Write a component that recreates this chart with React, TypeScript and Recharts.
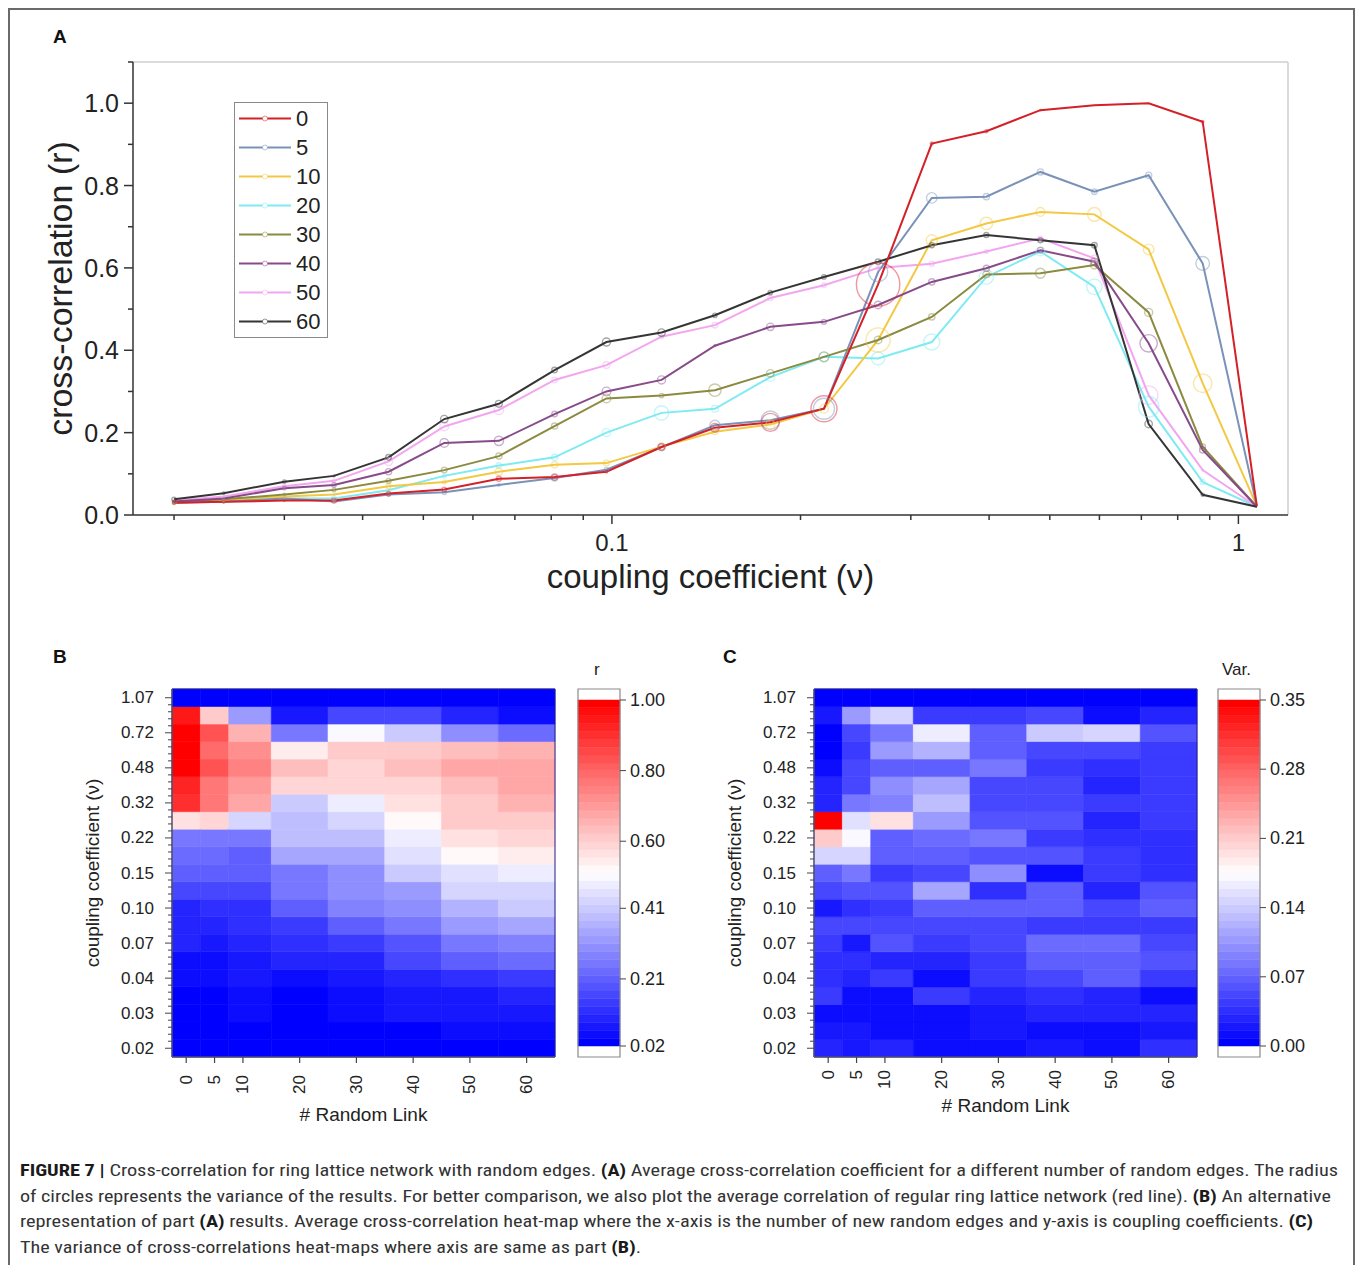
import React from 'react'
import {
  LineChart,
  Line,
  XAxis,
  YAxis,
  Legend,
  Label,
  ReferenceLine,
  ReferenceArea,
  ComposedChart,
  Scatter
} from 'recharts'

// coupling coefficients (21 log-spaced steps) and number of random links
const couplings = [0.020, 0.024, 0.030, 0.036, 0.044, 0.054, 0.066, 0.081, 0.098, 0.120, 0.146, 0.179, 0.218, 0.266, 0.324, 0.396, 0.483, 0.589, 0.719, 0.877, 1.07]
const links = [0, 5, 10, 20, 30, 40, 50, 60]

// average cross-correlation r, one array per number of random links
const corr0 = [0.030, 0.032, 0.035, 0.035, 0.052, 0.062, 0.088, 0.092, 0.105, 0.165, 0.212, 0.225, 0.258, 0.560, 0.902, 0.932, 0.983, 0.995, 1.000, 0.955, 0.022]
const corr5 = [0.030, 0.032, 0.040, 0.033, 0.050, 0.055, 0.073, 0.090, 0.110, 0.165, 0.218, 0.230, 0.258, 0.590, 0.770, 0.773, 0.833, 0.785, 0.825, 0.611, 0.022]
const corr10 = [0.030, 0.035, 0.045, 0.050, 0.070, 0.080, 0.105, 0.122, 0.126, 0.166, 0.202, 0.220, 0.258, 0.425, 0.667, 0.708, 0.736, 0.730, 0.645, 0.320, 0.022]
const corr20 = [0.030, 0.035, 0.040, 0.040, 0.060, 0.095, 0.120, 0.140, 0.200, 0.248, 0.258, 0.335, 0.384, 0.380, 0.420, 0.578, 0.640, 0.554, 0.263, 0.080, 0.020]
const corr30 = [0.032, 0.038, 0.050, 0.061, 0.083, 0.109, 0.143, 0.216, 0.283, 0.290, 0.303, 0.344, 0.384, 0.425, 0.481, 0.584, 0.587, 0.607, 0.492, 0.166, 0.020]
const corr40 = [0.033, 0.040, 0.065, 0.073, 0.105, 0.175, 0.180, 0.245, 0.300, 0.328, 0.411, 0.457, 0.469, 0.510, 0.566, 0.599, 0.643, 0.615, 0.417, 0.158, 0.020]
const corr50 = [0.035, 0.045, 0.070, 0.083, 0.130, 0.215, 0.255, 0.328, 0.364, 0.433, 0.461, 0.527, 0.558, 0.600, 0.610, 0.640, 0.672, 0.623, 0.291, 0.109, 0.020]
const corr60 = [0.038, 0.053, 0.081, 0.095, 0.140, 0.233, 0.270, 0.352, 0.420, 0.443, 0.485, 0.540, 0.578, 0.615, 0.655, 0.680, 0.667, 0.655, 0.221, 0.049, 0.020]

// variance of r (panel C, also circle radius in panel A)
const var0 = [0.025, 0.020, 0.015, 0.040, 0.035, 0.035, 0.040, 0.050, 0.020, 0.050, 0.070, 0.145, 0.210, 0.350, 0.025, 0.025, 0.010, 0.000, 0.000, 0.020, 0.000]
const var5 = [0.022, 0.020, 0.008, 0.008, 0.030, 0.035, 0.020, 0.050, 0.035, 0.060, 0.080, 0.150, 0.170, 0.155, 0.085, 0.050, 0.050, 0.045, 0.050, 0.110, 0.000]
const var10 = [0.030, 0.015, 0.008, 0.008, 0.040, 0.030, 0.060, 0.050, 0.045, 0.060, 0.045, 0.070, 0.070, 0.195, 0.090, 0.100, 0.070, 0.110, 0.085, 0.150, 0.000]
const var20 = [0.015, 0.015, 0.008, 0.040, 0.012, 0.030, 0.045, 0.050, 0.065, 0.115, 0.055, 0.070, 0.075, 0.105, 0.130, 0.115, 0.070, 0.125, 0.165, 0.040, 0.000]
const var30 = [0.015, 0.020, 0.020, 0.030, 0.040, 0.045, 0.050, 0.050, 0.070, 0.035, 0.100, 0.060, 0.080, 0.060, 0.050, 0.055, 0.080, 0.065, 0.065, 0.045, 0.000]
const var40 = [0.022, 0.008, 0.028, 0.035, 0.050, 0.070, 0.075, 0.045, 0.070, 0.065, 0.015, 0.060, 0.040, 0.060, 0.050, 0.050, 0.045, 0.055, 0.140, 0.050, 0.000]
const var50 = [0.008, 0.015, 0.028, 0.028, 0.065, 0.070, 0.075, 0.045, 0.055, 0.030, 0.045, 0.040, 0.035, 0.030, 0.040, 0.030, 0.035, 0.055, 0.150, 0.015, 0.000]
const var60 = [0.035, 0.020, 0.028, 0.015, 0.045, 0.060, 0.055, 0.045, 0.065, 0.060, 0.035, 0.035, 0.035, 0.045, 0.040, 0.040, 0.040, 0.045, 0.060, 0.025, 0.000]

// axis ticks
const rTicks = [0, 0.1, 0.2, 0.3, 0.4, 0.5, 0.6, 0.7, 0.8, 0.9, 1.0, 1.1]
const rLabels = [0, 0.2, 0.4, 0.6, 0.8, 1.0]
const nuTicks = [0.02, 0.03, 0.04, 0.05, 0.06, 0.07, 0.08, 0.09, 0.1, 0.2, 0.3, 0.4, 0.5, 0.6, 0.7, 0.8, 0.9, 1]
const nuLabels = [0.1, 1]
const corrBarTicks = [0.02, 0.21, 0.41, 0.60, 0.80, 1.00]
const varBarTicks = [0.00, 0.07, 0.14, 0.21, 0.28, 0.35]

const series = [
  { key: 's0', name: '0', color: '#d42027', r: corr0, v: var0 },
  { key: 's5', name: '5', color: '#7a92b8', r: corr5, v: var5 },
  { key: 's10', name: '10', color: '#f3c843', r: corr10, v: var10 },
  { key: 's20', name: '20', color: '#7eeaf2', r: corr20, v: var20 },
  { key: 's30', name: '30', color: '#8a8a40', r: corr30, v: var30 },
  { key: 's40', name: '40', color: '#874b8a', r: corr40, v: var40 },
  { key: 's50', name: '50', color: '#f2a6ef', r: corr50, v: var50 },
  { key: 's60', name: '60', color: '#353535', r: corr60, v: var60 }
]
const drawOrder = ['s20', 's50', 's10', 's5', 's30', 's40', 's60', 's0']

const rows = couplings.map((nu, i) => {
  const row: Record<string, number> = { nu }
  series.forEach(s => { row[s.key] = s.r[i] })
  return row
})

const font = '"Liberation Sans", Arial, Helvetica, sans-serif'
const RADIUS_PER_VAR = 62

// blue-white-red colormap, banded like the original
function bwr(t: number, levels = 44) {
  const k = Math.min(levels - 1, Math.max(0, Math.floor(t * levels)))
  const q = k / (levels - 1)
  let r, g, b
  if (q < 0.5) {
    r = g = Math.round(255 * q / 0.5)
    b = 255
  } else {
    r = 255
    g = b = Math.round(255 * (1 - q) / 0.5)
  }
  return `rgb(${r},${g},${b})`
}

// cell edges along the random link axis
const edges = links.map((l, j) => {
  const prev = j > 0 ? links[j - 1] : l - (links[1] - links[0])
  const next = j < links.length - 1 ? links[j + 1] : l + (l - links[j - 1])
  return [(prev + l) / 2, (l + next) / 2]
})
const rowTicks = Array.from({ length: 51 }, (_, k) => Math.round(k * 4) / 10)

function NuTick(props: any) {
  const { x, y, payload } = props
  const v = payload.value
  const major = nuLabels.includes(v)
  return (
    <g>
      <line x1={x} x2={x} y1={y} y2={y + (major ? 9 : 5)} stroke="#333" strokeWidth={1.5} />
      {major && (
        <text x={x} y={y + 27} textAnchor="middle" dominantBaseline="central" fontSize={24} fill="#222" fontFamily={font}>
          {String(v)}
        </text>
      )}
    </g>
  )
}

function RTick(props: any) {
  const { x, y, payload } = props
  const v = payload.value
  const major = rLabels.includes(v)
  return (
    <g>
      <line x1={x - (major ? 9 : 5)} x2={x} y1={y} y2={y} stroke="#333" strokeWidth={1.5} />
      {major && (
        <text x={x - 14} y={y} textAnchor="end" dominantBaseline="central" fontSize={25} fill="#222" fontFamily={font}>
          {v.toFixed(1)}
        </text>
      )}
    </g>
  )
}

function makeDot(color: string, v: number[]) {
  return (props: any) => {
    const { cx, cy, index } = props
    const rad = v[index] * RADIUS_PER_VAR
    if (!rad || cx == null || cy == null) return <g key={`${color}-${index}`} />
    return (
      <circle
        key={`${color}-${index}`}
        cx={cx}
        cy={cy}
        r={rad}
        fill="none"
        stroke={color}
        strokeOpacity={0.45}
        strokeWidth={1.4}
      />
    )
  }
}

function LegendBox() {
  return (
    <div style={{ position: 'relative', width: 94, height: 236, border: '1.5px solid #8a8a8a', boxSizing: 'border-box', background: '#fff' }}>
      {series.map((s, i) => (
        <div key={s.key} style={{ position: 'absolute', left: 0, top: 1 + i * 29, height: 29, width: 92 }}>
          <svg width={56} height={29} style={{ position: 'absolute', left: 2, top: 0 }}>
            <line x1={2} x2={54} y1={14.5} y2={14.5} stroke={s.color} strokeWidth={2} />
            <circle cx={28} cy={14.5} r={2.5} fill="#fff" stroke={s.color} strokeOpacity={0.5} strokeWidth={1} />
          </svg>
          <span style={{ position: 'absolute', left: 61, top: 1, fontSize: 22, lineHeight: '27px', color: '#222', fontFamily: font }}>
            {s.name}
          </span>
        </div>
      ))}
    </div>
  )
}

function PanelA() {
  return (
    <div style={{ position: 'absolute', left: 0, top: 0 }}>
      <LineChart width={1300} height={620} data={rows} margin={{ top: 62, right: 12, left: 0, bottom: 25 }}>
        <XAxis
          dataKey="nu"
          type="number"
          scale="log"
          domain={[0.0172, 1.2]}
          allowDataOverflow
          ticks={nuTicks}
          interval={0}
          tickSize={0}
          tickMargin={0}
          tickLine={false}
          tick={<NuTick />}
          height={80}
          stroke="#333"
          strokeWidth={1.5}
        >
          <Label value="coupling coefficient (ν)" position="insideBottom" offset={7} fontSize={33} fill="#222" fontFamily={font} />
        </XAxis>
        <YAxis
          type="number"
          domain={[0, 1.1]}
          allowDataOverflow
          ticks={rTicks}
          interval={0}
          tickSize={0}
          tickMargin={0}
          tickLine={false}
          tick={<RTick />}
          width={133}
          stroke="#333"
          strokeWidth={1.5}
        >
          <Label
            value="cross-correlation (r)"
            angle={-90}
            position="insideLeft"
            offset={60}
            fontSize={34}
            fill="#222"
            fontFamily={font}
            style={{ textAnchor: 'middle' }}
          />
        </YAxis>
        <ReferenceLine y={1.1} stroke="#cfcfcf" strokeWidth={1.5} />
        <ReferenceLine x={1.2} stroke="#cfcfcf" strokeWidth={1.5} />
        {drawOrder.map(k => {
          const s = series.find(q => q.key === k)!
          return (
            <Line
              key={s.key}
              dataKey={s.key}
              name={s.name}
              type="linear"
              stroke={s.color}
              strokeWidth={2}
              dot={makeDot(s.color, s.v)}
              activeDot={false}
              isAnimationActive={false}
            />
          )
        })}
        <Legend
          layout="vertical"
          align="center"
          verticalAlign="middle"
          wrapperStyle={{ left: 234, top: 102, width: 94, height: 236 }}
          content={() => <LegendBox />}
        />
      </LineChart>
    </div>
  )
}

function makeRowTick(gap: number) {
  return (props: any) => {
    const { x, y, payload } = props
    const v = payload.value
    const row = Math.round(v)
    const major = Math.abs(v - row) < 1e-6 && row % 2 === 0
    return (
      <g>
        <line x1={x - (major ? 7 : 4)} x2={x} y1={y} y2={y} stroke="#444" strokeWidth={1} />
        {major && (
          <text x={x - gap} y={y} textAnchor="end" dominantBaseline="central" fontSize={17} fill="#222" fontFamily={font}>
            {couplings[row].toFixed(2)}
          </text>
        )}
      </g>
    )
  }
}

function makeLinkTick(gap: number) {
  return (props: any) => {
    const { x, y, payload } = props
    return (
      <g>
        <line x1={x} x2={x} y1={y} y2={y + 6} stroke="#444" strokeWidth={1.2} />
        <text
          transform={`translate(${x},${y + gap}) rotate(-90)`}
          textAnchor="end"
          dominantBaseline="central"
          fontSize={17}
          fill="#222"
          fontFamily={font}
        >
          {payload.value}
        </text>
      </g>
    )
  }
}

type HeatProps = {
  grid: number[][]
  lo: number
  hi: number
  left: number
  tickGap: number
  titleOffset: number
}

function HeatMap({ grid, lo, hi, left, tickGap, titleOffset }: HeatProps) {
  const cells = links.flatMap((l, j) =>
    couplings.map((_, i) => ({ x: l, y: i, j, value: grid[j][i] }))
  )
  const RowTick = makeRowTick(18)
  const LinkTick = makeLinkTick(tickGap)
  return (
    <div style={{ position: 'absolute', left, top: 640 }}>
      <ComposedChart width={500} height={500} data={cells} margin={{ top: 49, right: 5, left: 0, bottom: 3 }}>
        <XAxis
          type="number"
          dataKey="x"
          domain={[edges[0][0], edges[edges.length - 1][1]]}
          allowDataOverflow
          ticks={links}
          interval={0}
          tickSize={0}
          tickMargin={0}
          tickLine={false}
          tick={<LinkTick />}
          height={80}
          stroke="#666"
        >
          <Label value="# Random Link" position="insideTop" offset={titleOffset} fontSize={19} fill="#222" fontFamily={font} />
        </XAxis>
        <YAxis
          type="number"
          dataKey="y"
          domain={[-0.5, couplings.length - 0.5]}
          allowDataOverflow
          ticks={rowTicks}
          interval={0}
          tickSize={0}
          tickMargin={0}
          tickLine={false}
          tick={<RowTick />}
          width={112}
          stroke="#666"
        >
          <Label
            value="coupling coefficient (ν)"
            angle={-90}
            position="insideLeft"
            offset={32}
            fontSize={19}
            fill="#222"
            fontFamily={font}
            style={{ textAnchor: 'middle' }}
          />
        </YAxis>
        {cells.map(c => {
          const col = bwr((c.value - lo) / (hi - lo))
          return (
            <ReferenceArea
              key={`${c.j}-${c.y}`}
              x1={edges[c.j][0]}
              x2={edges[c.j][1]}
              y1={c.y - 0.5}
              y2={c.y + 0.5}
              fill={col}
              fillOpacity={1}
              stroke={col}
              strokeWidth={0.6}
              ifOverflow="visible"
            />
          )
        })}
        <ReferenceArea
          x1={edges[0][0]}
          x2={edges[edges.length - 1][1]}
          y1={-0.5}
          y2={couplings.length - 0.5}
          fill="none"
          stroke="#20208a"
          strokeWidth={1}
          ifOverflow="visible"
        />
        <Scatter dataKey="y" shape={() => <g />} isAnimationActive={false} />
      </ComposedChart>
    </div>
  )
}

type BarProps = { lo: number; hi: number; ticks: number[]; left: number }

function ColorBar({ lo, hi, ticks, left }: BarProps) {
  const pad = (hi - lo) * 11 / 346
  const levels = 44
  const bands = Array.from({ length: levels }, (_, k) => ({
    y1: lo + (k * (hi - lo)) / levels,
    y2: lo + ((k + 1) * (hi - lo)) / levels,
    color: bwr((k + 0.5) / levels, levels)
  }))
  const BarTick = (props: any) => {
    const { x, y, payload } = props
    return (
      <g>
        <line x1={x} x2={x + 6} y1={y} y2={y} stroke="#444" strokeWidth={1} />
        <text x={x + 10} y={y} dominantBaseline="central" fontSize={18} fill="#222" fontFamily={font}>
          {payload.value.toFixed(2)}
        </text>
      </g>
    )
  }
  return (
    <div style={{ position: 'absolute', left, top: 640 }}>
      <ComposedChart
        width={130}
        height={500}
        data={[{ x: 0.5, y: lo }]}
        margin={{ top: 49, right: 0, left: 18, bottom: 83 }}
      >
        <XAxis type="number" dataKey="x" domain={[0, 1]} hide />
        <YAxis
          type="number"
          dataKey="y"
          orientation="right"
          domain={[lo - pad, hi + pad]}
          allowDataOverflow
          ticks={ticks}
          interval={0}
          tickSize={0}
          tickMargin={0}
          tickLine={false}
          axisLine={false}
          tick={<BarTick />}
          width={70}
        />
        <ReferenceArea x1={0} x2={1} y1={lo - pad} y2={hi + pad} fill="#fff" fillOpacity={1} stroke="none" ifOverflow="visible" />
        {bands.map((b, k) => (
          <ReferenceArea
            key={k}
            x1={0}
            x2={1}
            y1={b.y1}
            y2={b.y2}
            fill={b.color}
            fillOpacity={1}
            stroke={b.color}
            strokeWidth={0.5}
            ifOverflow="visible"
          />
        ))}
        <ReferenceArea x1={0} x2={1} y1={lo - pad} y2={hi + pad} fill="none" stroke="#8a8a8a" strokeWidth={1.2} ifOverflow="visible" />
        <Scatter dataKey="y" shape={() => <g />} isAnimationActive={false} />
      </ComposedChart>
    </div>
  )
}

const captionLines: { parts: [string, boolean][]; width: number }[] = [
  {
    parts: [
      ['FIGURE 7 | ', true],
      ['Cross-correlation for ring lattice network with random edges. ', false],
      ['(A)', true],
      [' Average cross-correlation coefficient for a different number of random edges. The radius', false]
    ],
    width: 1318
  },
  {
    parts: [
      ['of circles represents the variance of the results. For better comparison, we also plot the average correlation of regular ring lattice network (red line). ', false],
      ['(B)', true],
      [' An alternative', false]
    ],
    width: 1311
  },
  {
    parts: [
      ['representation of part ', false],
      ['(A)', true],
      [' results. Average cross-correlation heat-map where the x-axis is the number of new random edges and y-axis is coupling coefficients. ', false],
      ['(C)', true]
    ],
    width: 1293
  },
  {
    parts: [
      ['The variance of cross-correlations heat-maps where axis are same as part ', false],
      ['(B)', true],
      ['.', false]
    ],
    width: 621
  }
]

function Caption() {
  return (
    <svg width={1360} height={110} style={{ position: 'absolute', left: 0, top: 1155 }}>
      {captionLines.map((ln, i) => (
        <text
          key={i}
          x={20}
          y={21 + i * 25.7}
          textLength={ln.width}
          lengthAdjust="spacingAndGlyphs"
          fontSize={17}
          fill="#333"
          fontFamily='"Liberation Sans Narrow", "Roboto Condensed", "Liberation Sans", Arial, sans-serif'
          style={{ whiteSpace: 'pre' }}
        >
          {ln.parts.map(([t, bold], k) => (
            <tspan key={k} fontWeight={bold ? 700 : 400} fill={bold ? '#1a1a1a' : '#333'}>
              {t}
            </tspan>
          ))}
        </text>
      ))}
    </svg>
  )
}

const panelLabel = (text: string, left: number, top: number) => (
  <div style={{ position: 'absolute', left, top, fontSize: 19, fontWeight: 700, fontFamily: font, color: '#111', lineHeight: '20px' }}>
    {text}
  </div>
)

export default function App() {
  const corrGrid = series.map(s => s.r)
  const varGrid = series.map(s => s.v)
  return (
    <div style={{ position: 'absolute', left: 0, top: 0, width: 1360, height: 1265, overflow: 'hidden', background: '#fff' }}>
      <div
        style={{
          position: 'absolute',
          left: 8,
          top: 8,
          width: 1347,
          height: 1300,
          border: '2px solid #6a6a6a',
          boxSizing: 'border-box'
        }}
      />
      {panelLabel('A', 53, 27)}
      {panelLabel('B', 53, 647)}
      {panelLabel('C', 723, 647)}
      <PanelA />
      <HeatMap grid={corrGrid} lo={0.02} hi={1.0} left={60} tickGap={18} titleOffset={51} />
      <ColorBar lo={0.02} hi={1.0} ticks={corrBarTicks} left={560} />
      <HeatMap grid={varGrid} lo={0} hi={0.35} left={702} tickGap={13} titleOffset={42} />
      <ColorBar lo={0} hi={0.35} ticks={varBarTicks} left={1200} />
      <div style={{ position: 'absolute', left: 594, top: 660, fontSize: 17, fontFamily: font, color: '#222' }}>r</div>
      <div style={{ position: 'absolute', left: 1222, top: 660, fontSize: 17, fontFamily: font, color: '#222' }}>Var.</div>
      <Caption />
    </div>
  )
}
